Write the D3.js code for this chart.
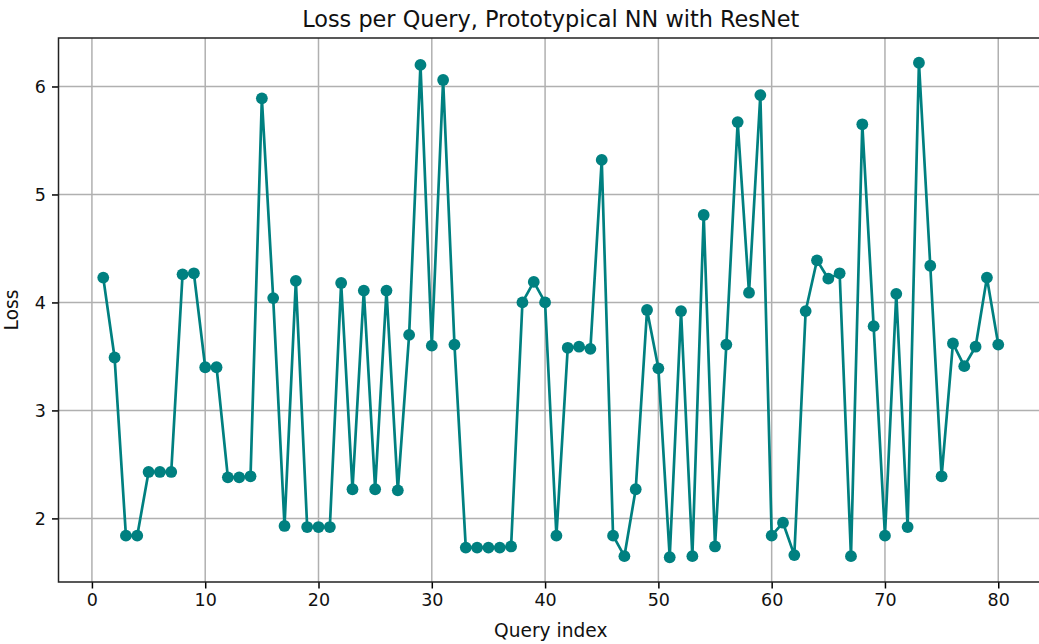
<!DOCTYPE html>
<html>
<head>
<meta charset="utf-8">
<script src="https://cdn.jsdelivr.net/npm/d3@7"></script>
<style>
  body { margin: 0; background: #fff; }
  svg { display: block; font-family: "DejaVu Sans", sans-serif; }
</style>
</head>
<body>
<svg id="chart"></svg>
<script>
const WIDTH = 1039;
const HEIGHT = 644;

// loss per query
const queryIndex = d3.range(1, 81);
const lossValues = [
  4.23, 3.49, 1.84, 1.84, 2.43, 2.43, 2.43, 4.26, 4.27, 3.40,
  3.40, 2.38, 2.38, 2.39, 5.89, 4.04, 1.93, 4.20, 1.92, 1.92,
  1.92, 4.18, 2.27, 4.11, 2.27, 4.11, 2.26, 3.70, 6.20, 3.60,
  6.06, 3.61, 1.73, 1.73, 1.73, 1.73, 1.74, 4.00, 4.19, 4.00,
  1.84, 3.58, 3.59, 3.57, 5.32, 1.84, 1.65, 2.27, 3.93, 3.39,
  1.64, 3.92, 1.65, 4.81, 1.74, 3.61, 5.67, 4.09, 5.92, 1.84,
  1.96, 1.66, 3.92, 4.39, 4.22, 4.27, 1.65, 5.65, 3.78, 1.84,
  4.08, 1.92, 6.22, 4.34, 2.39, 3.62, 3.41, 3.59, 4.23, 3.61
];
const xTicks = [0, 10, 20, 30, 40, 50, 60, 70, 80];
const yTicks = [2, 3, 4, 5, 6];

const margin = { top: 38, left: 58.5, bottom: 62 };
const plotRight = 1043;
const TEAL = '#008080';

const svg = d3.select('#chart')
    .attr('width', WIDTH)
    .attr('height', HEIGHT);

// matplotlib style 5% padding around the data
const xScale = d3.scaleLinear()
    .domain([1 - 0.05 * 79, 80 + 0.05 * 79])
    .range([margin.left, plotRight]);
const yMin = d3.min(lossValues), yMax = d3.max(lossValues);
const yPad = (yMax - yMin) * 0.05;
const yScale = d3.scaleLinear()
    .domain([yMin - yPad, yMax + yPad])
    .range([HEIGHT - margin.bottom, margin.top]);

const plotBottom = HEIGHT - margin.bottom;

// grid lines
const grid = svg.append('g').attr('class', 'grid');
grid.selectAll('line.vx')
    .data(xTicks)
    .enter().append('line')
    .attr('x1', d => xScale(d)).attr('x2', d => xScale(d))
    .attr('y1', margin.top).attr('y2', plotBottom)
    .attr('stroke', '#b0b0b0').attr('stroke-width', 1.5);
grid.selectAll('line.hy')
    .data(yTicks)
    .enter().append('line')
    .attr('x1', margin.left).attr('x2', plotRight)
    .attr('y1', d => yScale(d)).attr('y2', d => yScale(d))
    .attr('stroke', '#b0b0b0').attr('stroke-width', 1.5);

// the line and the markers
const points = queryIndex.map((q, i) => ({ q: q, loss: lossValues[i] }));
const line = d3.line()
    .x(d => xScale(d.q))
    .y(d => yScale(d.loss));
svg.append('path')
    .datum(points)
    .attr('d', line)
    .attr('fill', 'none')
    .attr('stroke', TEAL)
    .attr('stroke-width', 2.7)
    .attr('stroke-linejoin', 'round');
svg.selectAll('circle')
    .data(points)
    .enter().append('circle')
    .attr('cx', d => xScale(d.q))
    .attr('cy', d => yScale(d.loss))
    .attr('r', 5.9)
    .attr('fill', TEAL);

// axes
const bottomAxis = d3.axisBottom(xScale).tickValues(xTicks).tickSize(6.5).tickPadding(5);
const leftAxis = d3.axisLeft(yScale).tickValues(yTicks).tickSize(6.5).tickPadding(6)
    .tickFormat(d3.format('d'));

const gx = svg.append('g')
    .attr('transform', 'translate(0,' + plotBottom + ')')
    .call(bottomAxis);
const gy = svg.append('g')
    .attr('transform', 'translate(' + margin.left + ',0)')
    .call(leftAxis);

[gx, gy].forEach(function(g) {
    g.select('.domain').remove();
    g.selectAll('.tick line').attr('stroke', '#000').attr('stroke-width', 1.5);
    g.selectAll('.tick text')
        .attr('fill', '#111')
        .style('font-size', '17.5px')
        .style('font-family', '"DejaVu Sans", sans-serif');
});

// spines (top, left, bottom; right falls outside the picture)
svg.append('path')
    .attr('d', 'M' + plotRight + ',' + margin.top + 'H' + margin.left + 'V' + plotBottom + 'H' + plotRight)
    .attr('fill', 'none')
    .attr('stroke', '#222')
    .attr('stroke-width', 1.5);

// texts
svg.append('text')
    .attr('x', (margin.left + plotRight) / 2)
    .attr('y', 27)
    .attr('text-anchor', 'middle')
    .style('font-size', '22.4px')
    .attr('fill', '#111')
    .text('Loss per Query, Prototypical NN with ResNet');
svg.append('text')
    .attr('x', (margin.left + plotRight) / 2)
    .attr('y', 637)
    .attr('text-anchor', 'middle')
    .style('font-size', '18.6px')
    .attr('fill', '#111')
    .text('Query index');
svg.append('text')
    .attr('transform', 'translate(18,' + ((margin.top + plotBottom) / 2) + ') rotate(-90)')
    .attr('text-anchor', 'middle')
    .style('font-size', '18.6px')
    .attr('fill', '#111')
    .text('Loss');
</script>
</body>
</html>
